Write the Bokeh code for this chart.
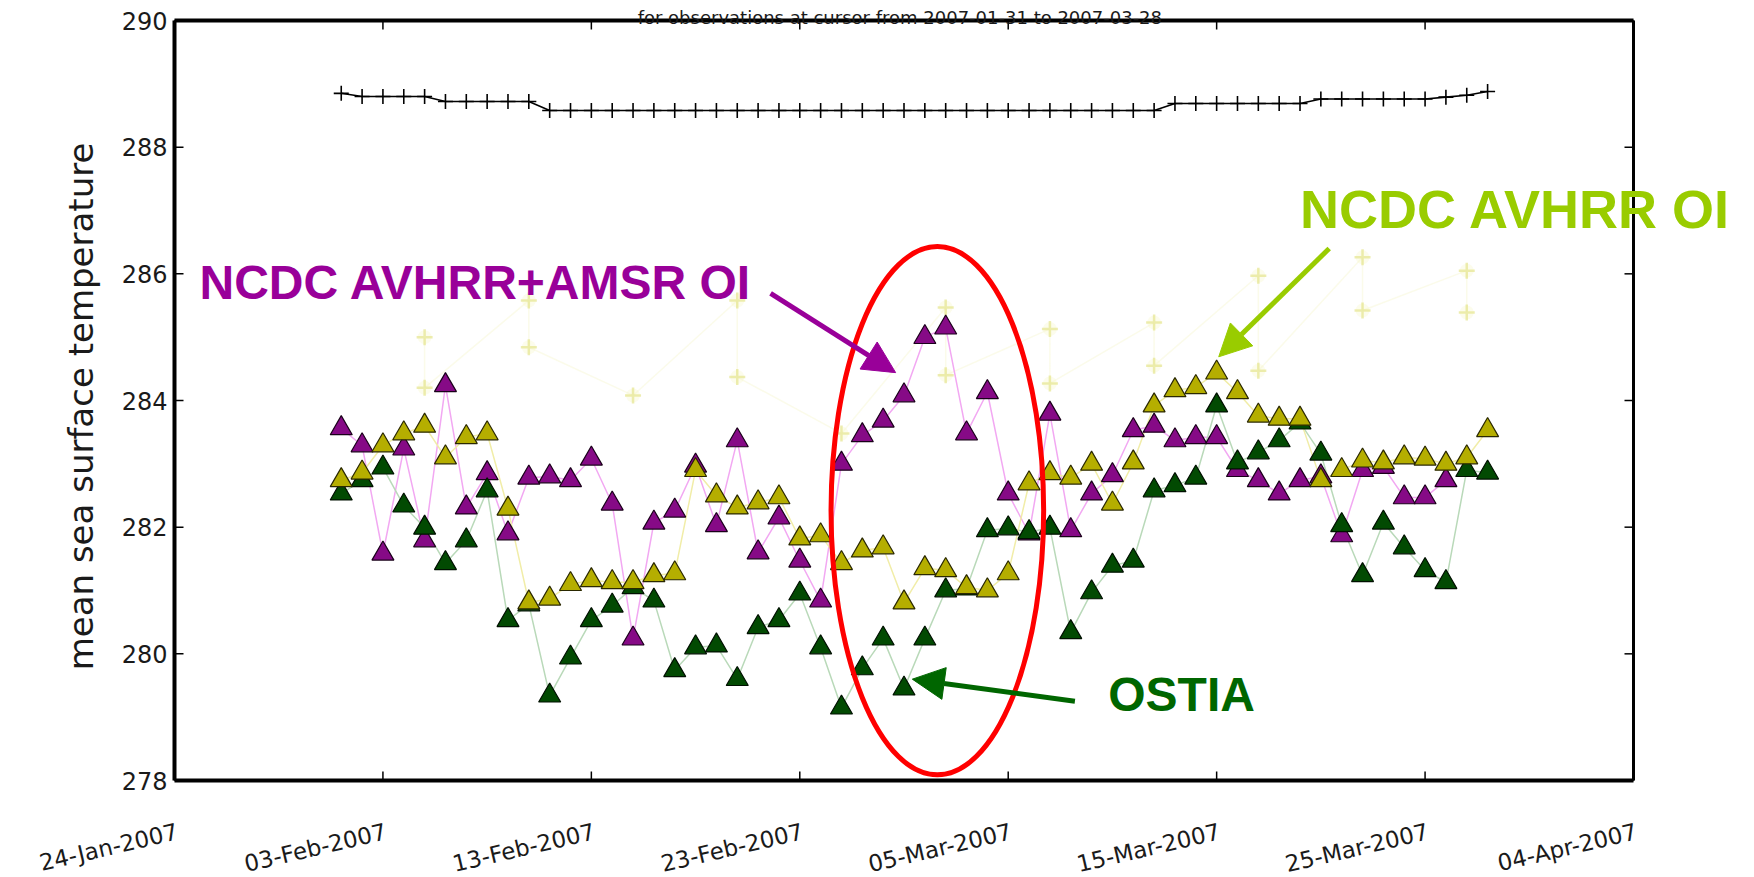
import math
from datetime import datetime, timedelta
from bokeh.plotting import figure
from bokeh.models import (ColumnDataSource, Range1d, Label, Arrow, NormalHead)
from bokeh.core.properties import value
from bokeh.embed import file_html
from bokeh.resources import INLINE

EPOCH = datetime(1970, 1, 1)
DAY_MS = 86400000.0


def ms(d):
    return (d - EPOCH).total_seconds() * 1000.0


# ---------------- data ----------------
first_day = datetime(2007, 2, 1)
dates_all = [first_day + timedelta(days=i) for i in range(56)]    # 01-Feb .. 28-Mar
dates_amsr = dates_all[:54]                                       # 01-Feb .. 26-Mar

obs_mean = [288.85, 288.80, 288.80, 288.80, 288.80,
            288.72, 288.72, 288.72, 288.72, 288.72,
            288.58, 288.58, 288.58, 288.58, 288.58, 288.58, 288.58, 288.58, 288.58, 288.58,
            288.58, 288.58, 288.58, 288.58, 288.58, 288.58, 288.58, 288.58, 288.58, 288.58,
            288.58, 288.58, 288.58, 288.58, 288.58, 288.58, 288.58, 288.58, 288.58, 288.58,
            288.69, 288.69, 288.69, 288.69, 288.69, 288.69, 288.69,
            288.76, 288.76, 288.76, 288.76, 288.76, 288.76,
            288.79, 288.82, 288.88]

amsr_oi = [283.56, 283.29, 281.58, 283.24, 281.79, 284.24, 282.31, 282.85, 281.90, 282.78,
           282.80, 282.74, 283.08, 282.37, 280.24, 282.07, 282.26, 282.97, 282.03, 283.37,
           281.60, 282.15, 281.47, 280.84, 283.00, 283.45, 283.68, 284.08, 285.00, 285.15,
           283.48, 284.13, 282.53, 281.90, 283.79, 281.95, 282.53, 282.82, 283.53, 283.60,
           283.37, 283.42, 283.42, 282.90, 282.74, 282.53, 282.74, 282.80, 281.87, 282.90,
           282.95, 282.47, 282.47, 282.74]

avhrr_oi = [282.74, 282.86, 283.29, 283.48, 283.60, 283.10, 283.42, 283.48, 282.29, 280.81,
            280.87, 281.10, 281.16, 281.13, 281.13, 281.24, 281.27, 282.90, 282.50, 282.31,
            282.39, 282.47, 281.82, 281.87, 281.43, 281.63, 281.68, 280.81, 281.35, 281.32,
            281.05, 281.00, 281.27, 282.69, 282.85, 282.78, 283.00, 282.37, 283.02, 283.92,
            284.16, 284.21, 284.44, 284.13, 283.76, 283.71, 283.71, 282.74, 282.90, 283.05,
            283.02, 283.10, 283.08, 283.00, 283.10, 283.53]

ostia = [282.53, 282.74, 282.94, 282.34, 281.99, 281.43, 281.79, 282.58, 280.53, 280.78,
         279.34, 279.94, 280.53, 280.76, 281.05, 280.84, 279.74, 280.10, 280.13, 279.60,
         280.42, 280.53, 280.95, 280.10, 279.15, 279.77, 280.24, 279.45, 280.24, 281.00,
         281.03, 281.95, 281.98, 281.92, 281.99, 280.34, 280.97, 281.39, 281.47, 282.58,
         282.66, 282.78, 283.92, 283.02, 283.18, 283.37, 283.65, 283.16, 282.03, 281.24,
         282.07, 281.68, 281.32, 281.13, 282.90, 282.86]

pale_dates = [datetime(2007, 2, 5), datetime(2007, 2, 5), datetime(2007, 2, 10), datetime(2007, 2, 10),
              datetime(2007, 2, 15), datetime(2007, 2, 20), datetime(2007, 2, 20), datetime(2007, 2, 25),
              datetime(2007, 3, 2), datetime(2007, 3, 2), datetime(2007, 3, 7), datetime(2007, 3, 7),
              datetime(2007, 3, 12), datetime(2007, 3, 12), datetime(2007, 3, 17), datetime(2007, 3, 17),
              datetime(2007, 3, 22), datetime(2007, 3, 22), datetime(2007, 3, 27), datetime(2007, 3, 27)]
pale_vals = [285.00, 284.20, 285.58, 284.84, 284.08, 285.58, 284.37, 283.48, 285.47, 284.40,
             285.13, 284.27, 285.23, 284.55, 285.97, 284.47, 286.26, 285.42, 286.05, 285.39]

tick_dates = [datetime(2007, 1, 24), datetime(2007, 2, 3), datetime(2007, 2, 13), datetime(2007, 2, 23),
              datetime(2007, 3, 5), datetime(2007, 3, 15), datetime(2007, 3, 25), datetime(2007, 4, 4)]
tick_labels = [d.strftime("%d-%b-%Y") for d in tick_dates]
y_ticks = [278, 280, 282, 284, 286, 288, 290]
y_tick_labels = [str(v) for v in y_ticks]

title_text = "for observations at cursor from 2007-01-31 to 2007-03-28"
y_label = "mean sea surface temperature"

# ---------------- layout (pixels) ----------------
W, H = 1754, 877
AX_L, AX_R, AX_T, AX_B = 174, 1633, 20, 780      # drawn box of the axes
x0, x1 = ms(tick_dates[0]), ms(tick_dates[-1])
y0, y1 = y_ticks[0], y_ticks[-1]
x_per_px = (x1 - x0) / (AX_R - AX_L)
y_per_px = (y1 - y0) / (AX_B - AX_T)
# the drawing frame covers the whole canvas so that no text is clipped;
# the axes box of the chart is drawn inside it on the same scales
x_start = x0 - AX_L * x_per_px
x_end = x1 + (W - AX_R) * x_per_px
y_top = y1 + AX_T * y_per_px
y_bot = y0 - (H - AX_B) * y_per_px

p = figure(width=W, height=H, x_axis_location=None, y_axis_location=None,
           x_range=Range1d(x_start, x_end), y_range=Range1d(y_bot, y_top),
           output_backend="svg", toolbar_location=None,
           min_border_left=0, min_border_right=0, min_border_top=0, min_border_bottom=0)
p.grid.visible = False
p.background_fill_color = "white"
p.border_fill_color = "white"
p.outline_line_color = None

# axes box with inward ticks
tick_len_y = 9 * y_per_px
tick_len_x = 9 * x_per_px
tick_x = [ms(d) for d in tick_dates]
p.line([x0, x1], [y0, y0], line_color="black", line_width=4)
p.line([x0, x1], [y1, y1], line_color="black", line_width=4)
p.line([x0, x0], [y0, y1], line_color="black", line_width=4)
p.line([x1, x1], [y0, y1], line_color="black", line_width=3)
p.segment(x0=tick_x, y0=[y1] * len(tick_x), x1=tick_x, y1=[y1 - tick_len_y] * len(tick_x),
          line_color="black", line_width=1.5)
p.segment(x0=tick_x, y0=[y0] * len(tick_x), x1=tick_x, y1=[y0 + tick_len_y] * len(tick_x),
          line_color="black", line_width=1.5)
p.segment(x0=[x1] * len(y_ticks), y0=y_ticks, x1=[x1 - tick_len_x] * len(y_ticks), y1=y_ticks,
          line_color="black", line_width=1.5)
p.segment(x0=[x0] * len(y_ticks), y0=y_ticks, x1=[x0 + tick_len_x] * len(y_ticks), y1=y_ticks,
          line_color="black", line_width=1.5)

# tick labels
src_xt = ColumnDataSource(dict(x=tick_x, y=[y0 - 38 * y_per_px] * len(tick_x), text=tick_labels))
p.text("x", "y", text="text", source=src_xt, angle=0.23, text_align="right",
       text_baseline="top", text_font=value("DejaVu Sans"), text_font_size=value("23px"),
       text_color="#1a1a1a")
src_yt = ColumnDataSource(dict(x=[x0 - 7 * x_per_px] * len(y_ticks), y=y_ticks, text=y_tick_labels))
p.text("x", "y", text="text", source=src_yt, text_align="right", text_baseline="middle",
       text_font=value("DejaVu Sans"), text_font_size=value("24px"), text_color="#1a1a1a")
p.add_layout(Label(x=x0 - 94 * x_per_px, y=y0 + (AX_B - 406) * y_per_px, text=y_label,
                   angle=math.pi / 2, text_align="center", text_baseline="middle",
                   text_font="DejaVu Sans", text_font_size="34px", text_color="#1a1a1a"))

# ---------------- series ----------------
src_pale = ColumnDataSource(dict(x=[ms(d) for d in pale_dates], y=pale_vals))
src_obs = ColumnDataSource(dict(x=[ms(d) for d in dates_all], y=obs_mean))
src_amsr = ColumnDataSource(dict(x=[ms(d) for d in dates_amsr], y=amsr_oi))
src_avhrr = ColumnDataSource(dict(x=[ms(d) for d in dates_all], y=avhrr_oi))
src_ostia = ColumnDataSource(dict(x=[ms(d) for d in dates_all], y=ostia))

p.line("x", "y", source=src_pale, line_color="#eeeeaa", line_width=1.5, line_alpha=0.25)
p.scatter("x", "y", source=src_pale, marker="circle", size=14, fill_color="#f6f6c0",
          fill_alpha=0.3, line_color=None)
p.scatter("x", "y", source=src_pale, marker="cross", size=16, line_color="#e6e690",
          line_width=2.5, line_alpha=0.7)

p.line("x", "y", source=src_amsr, line_color="#f2a8f2", line_width=1.5)
p.line("x", "y", source=src_ostia, line_color="#b9d9b9", line_width=1.5)
p.line("x", "y", source=src_avhrr, line_color="#f1eda8", line_width=1.5)

p.scatter("x", "y", source=src_amsr, marker="triangle", size=22, fill_color="#860a86",
          line_color="#1a001a", line_width=1.2)
p.scatter("x", "y", source=src_ostia, marker="triangle", size=22, fill_color="#024a02",
          line_color="#001000", line_width=1.2)
p.scatter("x", "y", source=src_avhrr, marker="triangle", size=22, fill_color="#b5ae00",
          line_color="#2a2800", line_width=1.2)

p.line("x", "y", source=src_obs, line_color="black", line_width=1.6)
p.scatter("x", "y", source=src_obs, marker="cross", size=15, line_color="black", line_width=1.6)

# ---------------- annotations ----------------
def dd(days):
    return x0 + days * DAY_MS

ell_cx, ell_cy, ell_w_days, ell_h = 36.6, 282.26, 10.2, 8.34
p.ellipse(x=[dd(ell_cx)], y=[ell_cy], width=[ell_w_days * DAY_MS], height=[ell_h],
          fill_color=None, line_color="#ff0000", line_width=5)

p.add_layout(Arrow(end=NormalHead(size=32, fill_color="#990099", line_color="#990099"),
                   x_start=dd(28.6), y_start=285.69, x_end=dd(34.6), y_end=284.44,
                   line_color="#990099", line_width=5))
p.add_layout(Arrow(end=NormalHead(size=32, fill_color="#99cc00", line_color="#99cc00"),
                   x_start=dd(55.4), y_start=286.4, x_end=dd(50.1), y_end=284.69,
                   line_color="#99cc00", line_width=5))
p.add_layout(Arrow(end=NormalHead(size=32, fill_color="#006600", line_color="#006600"),
                   x_start=dd(43.2), y_start=279.25, x_end=dd(35.4), y_end=279.6,
                   line_color="#006600", line_width=5))

lab_kw = dict(text_font="Liberation Sans", text_font_style="bold",
              text_baseline="middle", text_align="left")
p.add_layout(Label(x=dd(1.2), y=285.86, text="NCDC AVHRR+AMSR OI", text_color="#990099",
                   text_font_size="48px", **lab_kw))
p.add_layout(Label(x=dd(54.0), y=287.03, text="NCDC AVHRR OI", text_color="#99cc00",
                   text_font_size="54px", **lab_kw))
p.add_layout(Label(x=dd(44.8), y=279.36, text="OSTIA", text_color="#006600",
                   text_font_size="48px", **lab_kw))

p.add_layout(Label(x=dd(34.8), y=y1 + 3 * y_per_px, text=title_text, text_font="DejaVu Sans",
                   text_font_size="18px", text_align="center", text_baseline="alphabetic",
                   text_color="#1a1a1a"))

open("out.html", "w").write(file_html(p, INLINE))
